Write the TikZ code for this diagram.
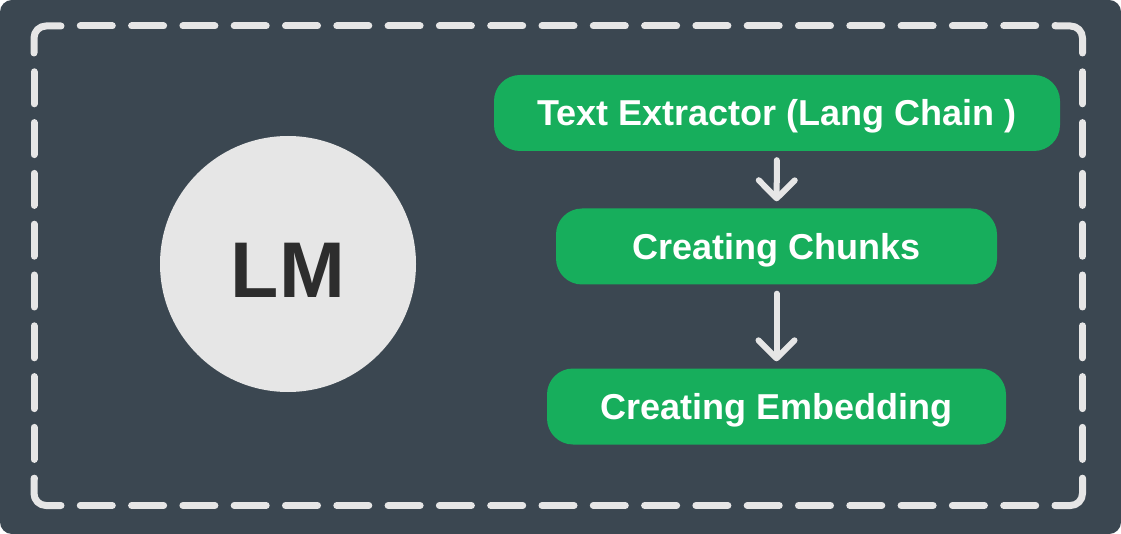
\documentclass[tikz,border=0pt]{standalone}
\usepackage{fontspec}
\setmainfont{Liberation Sans}
\usetikzlibrary{arrows.meta}
\definecolor{bgdark}{HTML}{3B4751}
\definecolor{boxgreen}{HTML}{17AE5C}
\definecolor{lmgray}{HTML}{E6E6E6}
\definecolor{lmtext}{HTML}{2D2D2D}
\begin{document}
\begin{tikzpicture}[x=1pt,y=-1pt,
  stepbox/.style={fill=boxgreen, rounded corners=26pt, text=white,
    font=\bfseries\fontsize{36}{40}\selectfont, minimum height=76pt,
    inner sep=0pt, text height=25.8pt, text depth=0pt},
  flow/.style={draw=lmgray, line width=6pt, line cap=round,
    -{Straight Barb[length=18pt, width=36pt, round]},
    shorten <=9pt, shorten >=7pt},
  borderline/.style={draw=lmgray, line width=7pt, line cap=round, line join=round},
  bordercorner/.style={borderline, rounded corners=12pt}]
\useasboundingbox (0,0) rectangle (1121,534);
\fill[white] (0,0) rectangle (1121,534);
\fill[bgdark, rounded corners=12pt] (0,0) rectangle (1121,534);
% dashed frame: corners
\draw[bordercorner] (34,53) -- (34,26) -- (61,26);
\draw[bordercorner] (1055.5,26) -- (1082.5,26) -- (1082.5,53);
\draw[bordercorner] (1082.5,478.5) -- (1082.5,505.5) -- (1055.5,505.5);
\draw[bordercorner] (61,505.5) -- (34,505.5) -- (34,478.5);
% dashed frame: sides
\draw[borderline, dash pattern=on 32pt off 19.3pt, dash phase=32pt] (61,26) -- (1055.5,26);
\draw[borderline, dash pattern=on 32pt off 19.3pt, dash phase=32pt] (61,505.5) -- (1055.5,505.5);
\draw[borderline, dash pattern=on 32pt off 18.8pt, dash phase=32pt] (34,53) -- (34,478.5);
\draw[borderline, dash pattern=on 32pt off 18.8pt, dash phase=32pt] (1082.5,53) -- (1082.5,478.5);
\node[circle, fill=lmgray, minimum size=256pt, inner sep=0pt, text=lmtext,
  font=\bfseries\fontsize{79}{90}\selectfont, text height=68pt, text depth=0pt] (lm) at (288,264) {LM};
\node[stepbox, minimum width=566pt] (b1) at (777,113) {Text Extractor (Lang Chain )};
\node[stepbox, minimum width=441pt] (b2) at (776.5,246.5) {Creating Chunks};
\node[stepbox, minimum width=459pt] (b3) at (776.5,406.5) {Creating Embedding};
\draw[flow] (b1) -- (b2);
\draw[flow] (b2) -- (b3);
\end{tikzpicture}
\end{document}
